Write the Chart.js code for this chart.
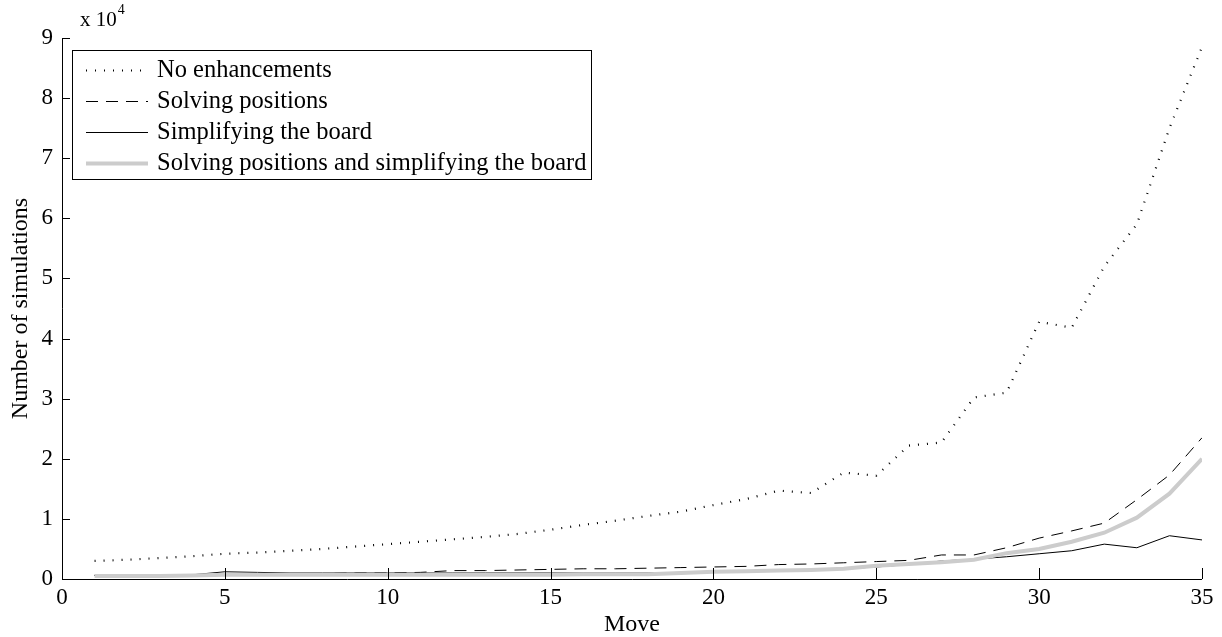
<!DOCTYPE html>
<html>
<head>
<meta charset="utf-8">
<script src="https://cdn.jsdelivr.net/npm/chart.js@4.4.0/dist/chart.umd.min.js"></script>
<style>
  html, body { margin: 0; padding: 0; background: #fff; }
  #wrap { width: 1222px; height: 637px; }
</style>
</head>
<body>
<div id="wrap"><canvas id="c" width="1222" height="637"></canvas></div>
<script>
const moves = [1,2,3,4,5,6,7,8,9,10,11,12,13,14,15,16,17,18,19,20,21,22,23,24,25,26,27,28,29,30,31,32,33,34,35];
const noEnhancements = [3000,3200,3500,3800,4200,4400,4700,5000,5400,5800,6200,6600,7000,7500,8200,9000,9700,10500,11200,12300,13300,14700,14300,17700,17200,22200,22700,30200,31000,42800,41800,52000,59000,75000,88500];
const solvingPositions = [600,600,700,700,800,800,900,900,1000,1000,1100,1400,1400,1500,1600,1700,1700,1800,1900,2000,2100,2400,2500,2700,2900,3100,4000,4000,5200,6800,8000,9300,13200,17300,23500];
const simplifyingBoard = [600,600,600,700,1200,1100,1000,1000,1000,1000,1000,1000,1000,1000,1000,1000,1000,1000,1100,1200,1300,1400,1500,1700,2000,2400,3000,3300,3700,4200,4700,5800,5200,7200,6500];
const solvingAndSimplifying = [500,500,500,600,700,700,700,700,700,700,700,700,700,700,700,800,800,800,1000,1200,1300,1400,1500,1700,2200,2500,2800,3200,4300,5000,6200,7700,10200,14200,20000];
const seriesLabels = ["No enhancements","Solving positions","Simplifying the board","Solving positions and simplifying the board"];
const xTicks = [0,5,10,15,20,25,30,35];
const yTicks = [0,10000,20000,30000,40000,50000,60000,70000,80000,90000];

const FONT = "'Liberation Serif', 'Times New Roman', serif";

function pts(arr) { return moves.map((m, i) => ({x: m, y: arr[i]})); }

const datasets = [
  { label: seriesLabels[0], data: pts(noEnhancements), borderColor: '#000', borderWidth: 2.2, borderDash: [1, 8], borderCapStyle: 'butt', order: 3 },
  { label: seriesLabels[1], data: pts(solvingPositions), borderColor: '#000', borderWidth: 1, borderDash: [12, 8], order: 2 },
  { label: seriesLabels[2], data: pts(simplifyingBoard), borderColor: '#000', borderWidth: 1, order: 1 },
  { label: seriesLabels[3], data: pts(solvingAndSimplifying), borderColor: '#cccccc', borderWidth: 4, order: 0 }
];
datasets.forEach(d => { d.pointRadius = 0; d.fill = false; d.tension = 0; });

const decor = {
  id: 'decor',
  afterDraw(chart) {
    const ctx = chart.ctx;
    const xs = chart.scales.x, ys = chart.scales.y;
    const a = chart.chartArea;
    ctx.save();
    ctx.strokeStyle = '#000';
    ctx.lineWidth = 1;
    ctx.beginPath();
    ctx.moveTo(a.left + 0.5, a.top);
    ctx.lineTo(a.left + 0.5, a.bottom + 0.5);
    ctx.lineTo(a.right, a.bottom + 0.5);
    ctx.stroke();
    ctx.beginPath();
    xTicks.forEach(v => {
      const px = Math.round(xs.getPixelForValue(v)) + 0.5;
      ctx.moveTo(px, a.bottom);
      ctx.lineTo(px, a.bottom - 11);
    });
    yTicks.forEach(v => {
      const py = Math.round(ys.getPixelForValue(v)) + 0.5;
      ctx.moveTo(a.left, py);
      ctx.lineTo(a.left + 8, py);
    });
    ctx.stroke();

    ctx.fillStyle = '#000';
    ctx.textBaseline = 'alphabetic';
    ctx.textAlign = 'left';
    ctx.font = '21px ' + FONT;
    ctx.fillText('x 10', a.left + 18, a.top - 12);
    const w = ctx.measureText('x 10').width;
    ctx.font = '14px ' + FONT;
    ctx.fillText('4', a.left + 18 + w + 1, a.top - 24);

    ctx.font = '24px ' + FONT;
    ctx.textAlign = 'center';
    ctx.textBaseline = 'middle';
    ctx.fillText('Move', (a.left + a.right) / 2, 625);
    ctx.save();
    ctx.translate(21, (a.top + a.bottom) / 2);
    ctx.rotate(-Math.PI / 2);
    ctx.fillText('Number of simulations', 0, 0);
    ctx.restore();

    const bx = 72, by = 50, bw = 519, bh = 129;
    ctx.fillStyle = '#fff';
    ctx.fillRect(bx, by, bw, bh);
    ctx.strokeRect(bx + 0.5, by + 0.5, bw, bh);
    const rows = [70, 101, 132, 163];
    chart.data.datasets.forEach((ds, i) => {
      const y = rows[i] + 0.5;
      ctx.save();
      ctx.strokeStyle = ds.borderColor;
      ctx.lineWidth = ds.borderWidth;
      ctx.lineCap = 'butt';
      ctx.setLineDash(ds.borderDash || []);
      ctx.beginPath();
      ctx.moveTo(86, y);
      ctx.lineTo(148, y);
      ctx.stroke();
      ctx.restore();
      ctx.fillStyle = '#000';
      ctx.textAlign = 'left';
      ctx.textBaseline = 'middle';
      ctx.font = '24.5px ' + FONT;
      ctx.fillText(ds.label, 157, rows[i] + 1);
    });
    ctx.restore();
  }
};

new Chart(document.getElementById('c'), {
  type: 'line',
  data: { datasets },
  options: {
    responsive: false,
    animation: false,
    devicePixelRatio: 1,
    layout: { padding: { top: 38, right: 20, left: 0, bottom: 0 } },
    plugins: { legend: { display: false }, tooltip: { enabled: false } },
    scales: {
      x: {
        type: 'linear', min: 0, max: 35,
        afterFit: s => { s.height = 58; },
        grid: { display: false, drawTicks: false },
        border: { display: false },
        ticks: { stepSize: 5, color: '#000', font: { family: FONT, size: 23 }, padding: 5, maxRotation: 0 }
      },
      y: {
        type: 'linear', min: 0, max: 90000,
        afterFit: s => { s.width = 62; },
        grid: { display: false, drawTicks: false },
        border: { display: false },
        ticks: { stepSize: 10000, color: '#000', font: { family: FONT, size: 23 }, padding: 9,
                 callback: v => String(v / 10000) }
      }
    }
  },
  plugins: [decor]
});
</script>
</body>
</html>
